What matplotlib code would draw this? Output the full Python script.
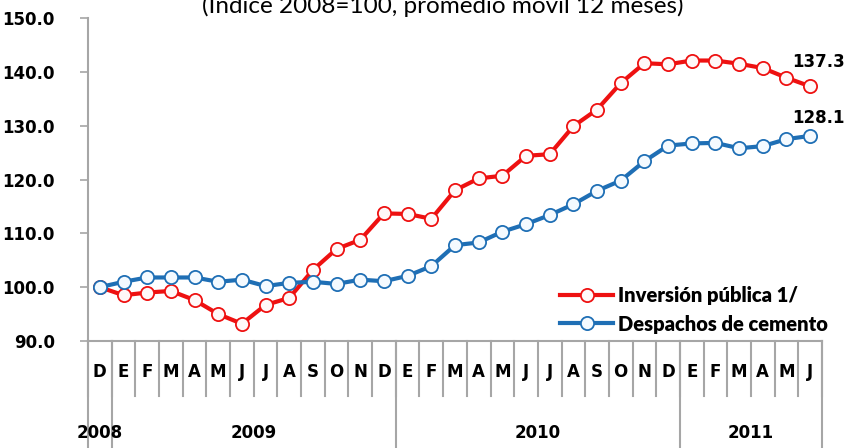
import matplotlib
matplotlib.use("Agg")
import matplotlib.pyplot as plt

months = ["D", "E", "F", "M", "A", "M", "J", "J", "A", "S", "O", "N",
          "D", "E", "F", "M", "A", "M", "J", "J", "A", "S", "O", "N",
          "D", "E", "F", "M", "A", "M", "J"]
years = ["2008", "2009", "2010", "2011"]
year_counts = [1, 12, 12, 6]

inversion = [100.0, 98.5, 99.0, 99.3, 97.6, 95.0, 93.2, 96.7, 98.0, 103.2,
             107.1, 108.8, 113.7, 113.6, 112.7, 118.0, 120.2, 120.7, 124.4, 124.7,
             129.9, 133.0, 137.9, 141.6, 141.4, 142.1, 142.1, 141.5, 140.7, 138.9,
             137.3]
cemento = [100.0, 101.0, 101.8, 101.8, 101.8, 101.0, 101.4, 100.2, 100.8, 101.0,
           100.6, 101.4, 101.1, 102.1, 103.9, 107.8, 108.3, 110.3, 111.7, 113.4,
           115.4, 117.9, 119.8, 123.4, 126.3, 126.7, 126.8, 125.8, 126.2, 127.5,
           128.1]

RED = "#ee1111"
BLUE = "#1f6fb5"
GRAY = "#a6a6a6"


def main():
    fig = plt.figure(figsize=(8.48, 4.48), dpi=100)
    ax = fig.add_axes([88 / 848, 107 / 448, 734 / 848, 323 / 448])

    x = range(len(months))
    ax.plot(x, inversion, color=RED, lw=3, marker="o", ms=9.5,
            mfc="#fff8f8", mec=RED, mew=1.3, label="Inversión pública 1/", zorder=3)
    ax.plot(x, cemento, color=BLUE, lw=3, marker="o", ms=9.5,
            mfc="#f4faff", mec=BLUE, mew=1.3, label="Despachos de cemento", zorder=3)

    ax.set_xlim(-0.5, len(months) - 0.5)
    ax.set_ylim(90, 150)
    ax.set_yticks(range(90, 151, 10))
    ax.set_yticklabels([f"{v:.1f}" for v in range(90, 151, 10)],
                       fontweight="bold", fontsize=12)
    ax.tick_params(axis="y", length=6, width=1.2, color=GRAY, pad=18)
    ax.set_xticks([])

    for s in ["top", "right"]:
        ax.spines[s].set_visible(False)
    for s in ["left", "bottom"]:
        ax.spines[s].set_color(GRAY)
        ax.spines[s].set_linewidth(1.5)

    # category separators below the axis
    tr = ax.get_xaxis_transform()
    for i in range(len(months) + 1):
        ax.plot([i - 0.5, i - 0.5], [0, -0.17], transform=tr, color=GRAY,
                lw=1.5, clip_on=False)
    edge = -0.5
    ax.plot([edge, edge], [0, -0.34], transform=tr, color=GRAY, lw=1.5, clip_on=False)
    for n in year_counts:
        edge += n
        ax.plot([edge, edge], [0, -0.34], transform=tr, color=GRAY, lw=1.5,
                clip_on=False)

    for i, m in enumerate(months):
        ax.text(i, -0.096, m, transform=tr, ha="center", va="center",
                fontweight="bold", fontsize=12)
    start = -0.5
    for yr, n in zip(years, year_counts):
        ax.text(start + n / 2, -0.285, yr, transform=tr, ha="center",
                va="center", fontweight="bold", fontsize=12)
        start += n

    ax.annotate(f"{inversion[-1]:.1f}", (len(months) - 1, inversion[-1]),
                xytext=(6, 14), textcoords="offset points", ha="center",
                fontweight="bold", fontsize=12)
    ax.annotate(f"{cemento[-1]:.1f}", (len(months) - 1, cemento[-1]),
                xytext=(6, 9), textcoords="offset points", ha="center",
                fontweight="bold", fontsize=12)

    ax.legend(loc="center left", bbox_to_anchor=(560 / 848, 138 / 448),
              bbox_transform=fig.transFigure, frameon=False,
              handlelength=2.65, handletextpad=0.25, labelspacing=0.45,
              borderpad=0, borderaxespad=0,
              prop={"family": "Lato", "weight": "heavy", "size": 14.5})

    fig.text(443 / 848, 1 - 13 / 448, "(Índice 2008=100, promedio móvil 12 meses)",
             ha="center", va="baseline", fontsize=17.5, family="Lato")

    fig.savefig("out.png", dpi=100)


if __name__ == "__main__":
    main()
